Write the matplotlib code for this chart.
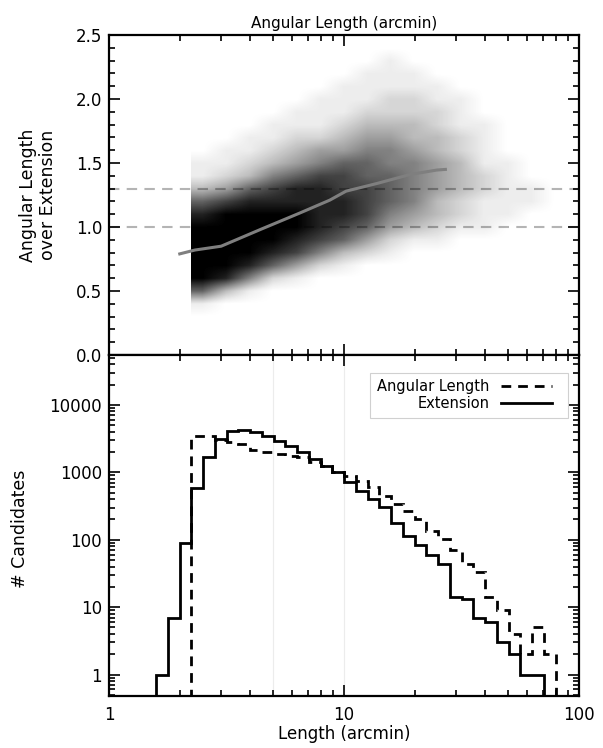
import numpy as np
import matplotlib
matplotlib.use("Agg")
import matplotlib.pyplot as plt
from matplotlib.colors import LinearSegmentedColormap
from matplotlib.lines import Line2D
from matplotlib.patches import Rectangle
from matplotlib.ticker import LogLocator, NullFormatter, FixedLocator, FixedFormatter, MultipleLocator

plt.rcParams['font.family'] = ['DejaVu Sans']
plt.rcParams['font.size'] = 12

# histogram bins: log10(arcmin), 0.05 dex wide, first bin starts at 0.15
bin_lo = 0.15
bin_step = 0.05
ext_counts = [0, 1, 7, 90, 580, 1690, 3150, 4060, 4290, 3980, 3420, 2880, 2460,
              2000, 1580, 1260, 1005, 715, 532, 402, 302, 179, 114, 83, 60, 43,
              14, 13, 7, 6, 3, 2, 1, 1, 0, 0, 0]
ang_counts = [0, 0, 0, 0, 3420, 3420, 2980, 2820, 2600, 2170, 1980, 1900, 1770,
              1680, 1445, 1230, 1005, 877, 748, 596, 443, 338, 269, 200, 135, 102,
              71, 43, 33, 14, 9, 4, 2, 5, 2, 0, 0]

# point density of the ratio scatter (0 empty .. 9 black)
# cells: log10(length) 0.35..1.95 in 0.1 dex columns, ratio 0.25..2.55 in 0.1 rows
dens_logx_range = (0.35, 1.95)
dens_y_range = (0.25, 2.55)
dens_rows = [
    [0, 0, 0, 0, 0, 0, 0, 0, 0, 0, 0, 0, 0, 0, 0, 0],  # 0.3
    [1, 0, 0, 0, 0, 0, 0, 0, 0, 0, 0, 0, 0, 0, 0, 0],  # 0.4
    [6, 3, 1, 0, 0, 0, 0, 0, 0, 0, 0, 0, 0, 0, 0, 0],  # 0.5
    [9, 8, 5, 2, 1, 0, 0, 0, 0, 0, 0, 0, 0, 0, 0, 0],  # 0.6
    [9, 9, 8, 6, 4, 2, 1, 0, 0, 0, 0, 0, 0, 0, 0, 0],  # 0.7
    [9, 9, 9, 8, 7, 5, 3, 2, 1, 0, 0, 0, 0, 0, 0, 0],  # 0.8
    [9, 9, 9, 9, 8, 7, 6, 4, 2, 1, 1, 0, 0, 0, 0, 0],  # 0.9
    [9, 9, 9, 9, 9, 8, 7, 6, 4, 3, 2, 1, 1, 0, 0, 0],  # 1.0
    [8, 9, 9, 9, 9, 8, 8, 7, 5, 4, 3, 2, 1, 1, 0, 0],  # 1.1
    [6, 7, 8, 8, 8, 8, 8, 7, 6, 5, 3, 2, 1, 1, 1, 0],  # 1.2
    [3, 4, 6, 7, 8, 8, 7, 7, 6, 5, 4, 3, 2, 1, 1, 0],  # 1.3
    [1, 2, 3, 5, 6, 7, 7, 6, 6, 5, 4, 3, 2, 1, 0, 0],  # 1.4
    [1, 1, 2, 3, 4, 5, 6, 6, 5, 5, 4, 3, 1, 1, 0, 0],  # 1.5
    [0, 1, 1, 2, 3, 4, 4, 5, 5, 4, 3, 2, 1, 0, 0, 0],  # 1.6
    [0, 0, 1, 1, 2, 2, 3, 4, 4, 3, 3, 2, 1, 0, 0, 0],  # 1.7
    [0, 0, 0, 1, 1, 1, 2, 3, 3, 3, 2, 1, 1, 0, 0, 0],  # 1.8
    [0, 0, 0, 0, 1, 1, 1, 2, 2, 2, 2, 1, 0, 0, 0, 0],  # 1.9
    [0, 0, 0, 0, 0, 1, 1, 1, 2, 2, 1, 1, 0, 0, 0, 0],  # 2.0
    [0, 0, 0, 0, 0, 0, 1, 1, 1, 1, 1, 0, 0, 0, 0, 0],  # 2.1
    [0, 0, 0, 0, 0, 0, 0, 1, 1, 1, 0, 0, 0, 0, 0, 0],  # 2.2
    [0, 0, 0, 0, 0, 0, 0, 0, 1, 0, 0, 0, 0, 0, 0, 0],  # 2.3
    [0, 0, 0, 0, 0, 0, 0, 0, 0, 0, 0, 0, 0, 0, 0, 0],  # 2.4
    [0, 0, 0, 0, 0, 0, 0, 0, 0, 0, 0, 0, 0, 0, 0, 0],  # 2.5
]

# running median of the ratio
med_x = [2.0, 2.32, 3.0, 4.4, 6.5, 8.7, 10.2, 13.8, 19.1, 24.8, 27.0]
med_y = [0.79, 0.82, 0.85, 0.98, 1.11, 1.21, 1.28, 1.34, 1.41, 1.445, 1.45]

ratio_lines = [1.0, 1.3]

top_rect = [0.1808, 0.5254, 0.7794, 0.4278]
fig = plt.figure(figsize=(6.03, 7.48), dpi=100)
ax1 = fig.add_axes(top_rect)
ax2 = fig.add_axes([0.1808, 0.0695, 0.7794, 0.4559], sharex=ax1)
# overlay in log10 units so the density image is laid out evenly in log space
ax1d = fig.add_axes(top_rect, facecolor='none')
ax1d.set_axis_off()

# ---- top panel: ratio vs angular length
for yv in ratio_lines:
    ax1.axhline(yv, color='#b4b4b4', lw=1.5, ls=(0, (5, 3.5)), zorder=1)

ink = LinearSegmentedColormap.from_list(
    'ink', [(i / 9, (0, 0, 0, (i / 9) ** 1.2)) for i in range(10)])
ax1d.imshow(np.array(dens_rows, dtype=float), cmap=ink, vmin=0, vmax=9,
            origin='lower', aspect='auto', interpolation='bilinear',
            extent=(dens_logx_range[0], dens_logx_range[1],
                    dens_y_range[0], dens_y_range[1]), zorder=2)
ax1d.plot(np.log10(med_x), med_y, color='#7f7f7f', lw=2.2, zorder=3)
ax1d.set_xlim(0, 2)
ax1d.set_ylim(0, 2.5)

ax1.set_xscale('log')
ax1.set_xlim(1, 100)
ax1.set_ylim(0, 2.5)
ax1.yaxis.set_major_locator(FixedLocator([0, 0.5, 1.0, 1.5, 2.0, 2.5]))
ax1.yaxis.set_major_formatter(FixedFormatter(['0.0', '0.5', '1.0', '1.5', '2.0', '2.5']))
ax1.yaxis.set_minor_locator(MultipleLocator(0.1))
ax1.set_title('Angular Length (arcmin)', fontsize=11, pad=5)
ax1.set_ylabel('Angular Length\nover Extension', fontsize=12.5, linespacing=1.2)
ax1.yaxis.set_label_coords(-0.11, 0.5)
plt.setp(ax1.get_xticklabels(), visible=False)

# ---- bottom panel: histograms
edges = 10 ** (bin_lo + bin_step * np.arange(len(ext_counts) + 1))
ext_plot = np.where(np.array(ext_counts) > 0, ext_counts, 0.05)
ang_plot = np.where(np.array(ang_counts) > 0, ang_counts, 0.05)

for xv in [5, 10]:
    ax2.axvline(xv, color='#ececec', lw=0.8, zorder=0)

dash = (0, (3.5, 2.5))
ax2.stairs(ang_plot, edges, baseline=None, color='black', lw=2, ls=dash)
ax2.stairs(ext_plot, edges, baseline=None, color='black', lw=2)

ax2.set_xscale('log')
ax2.set_yscale('log')
ax2.set_xlim(1, 100)
ax2.set_ylim(0.48, 55000)
ax2.yaxis.set_major_locator(FixedLocator([1, 10, 100, 1000, 10000]))
ax2.yaxis.set_major_formatter(FixedFormatter(['1', '10', '100', '1000', '10000']))
ax2.yaxis.set_minor_locator(LogLocator(base=10, subs=np.arange(2, 10), numticks=20))
ax2.yaxis.set_minor_formatter(NullFormatter())
ax2.xaxis.set_major_locator(FixedLocator([1, 10, 100]))
ax2.xaxis.set_major_formatter(FixedFormatter(['1', '10', '100']))
ax2.xaxis.set_minor_locator(LogLocator(base=10, subs=np.arange(2, 10), numticks=20))
ax2.xaxis.set_minor_formatter(NullFormatter())
ax2.set_xlabel('Length (arcmin)', fontsize=12, labelpad=1)
ax2.set_ylabel('# Candidates', fontsize=12.5)
ax2.yaxis.set_label_coords(-0.17, 0.49)

# legend box drawn separately: wider right margin than a legend frame gives
ax2.add_patch(Rectangle((0.555, 0.815), 0.422, 0.132, transform=ax2.transAxes,
                        facecolor='white', edgecolor='#d0d0d0', lw=0.8, zorder=4))
handles = [Line2D([], [], color='black', lw=2, ls=dash),
           Line2D([], [], color='black', lw=2)]
leg = ax2.legend(handles, ['Angular Length', 'Extension'], loc='upper right',
                 bbox_to_anchor=(0.9426, 0.93), borderaxespad=0, borderpad=0,
                 markerfirst=False, fontsize=10.5, handlelength=3.5, handletextpad=0.8,
                 labelspacing=0.15, frameon=False)
leg.set_zorder(5)

for ax in (ax1, ax2):
    ax.tick_params(which='both', direction='in', top=True, right=True, width=1.2)
    ax.tick_params(which='major', length=8, labelsize=12)
    ax.tick_params(which='minor', length=4)
    ax.tick_params(axis='x', pad=7)
    ax.tick_params(axis='y', pad=5)
    for sp in ax.spines.values():
        sp.set_linewidth(1.6)

fig.savefig('out.png', dpi=100)
